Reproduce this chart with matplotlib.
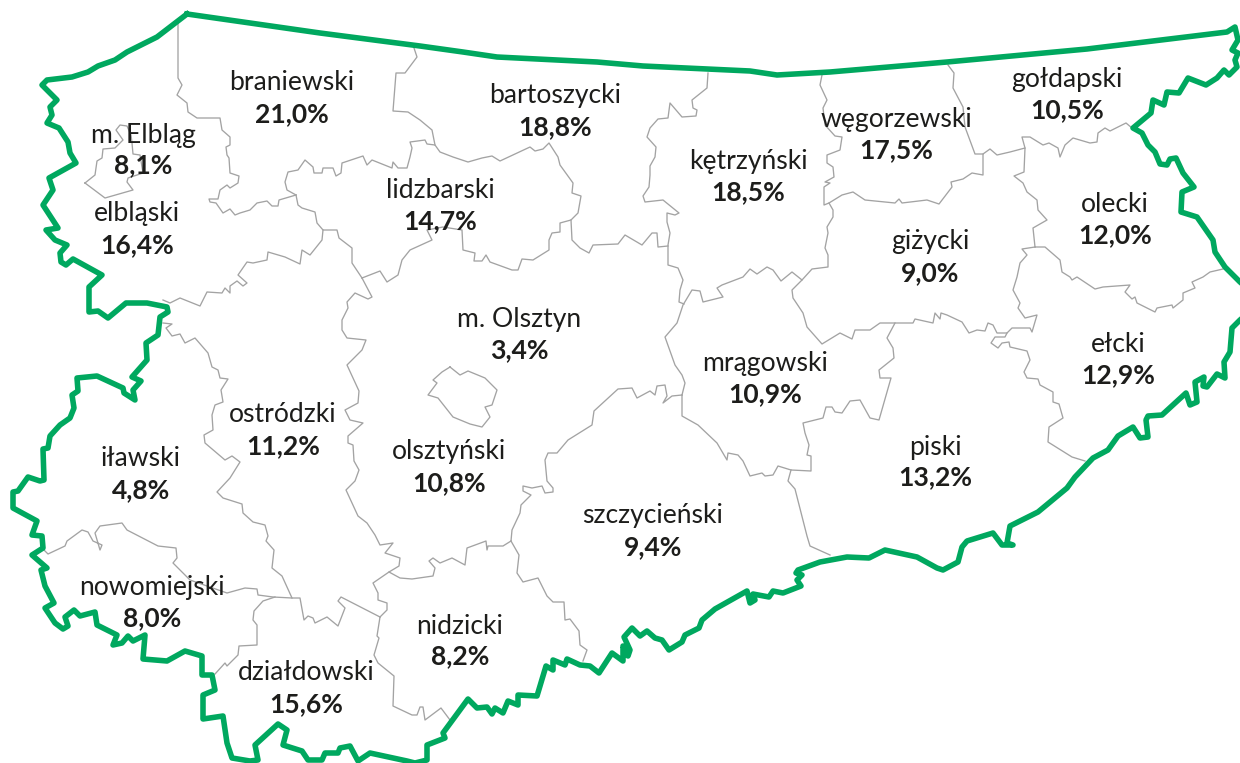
import matplotlib
matplotlib.use('Agg')
import matplotlib.pyplot as plt

# powiaty and their values
names = ['braniewski', 'bartoszycki', 'm. Elbląg', 'elbląski', 'lidzbarski', 'kętrzyński', 'węgorzewski',
         'gołdapski', 'olecki', 'giżycki', 'ełcki', 'm. Olsztyn', 'mrągowski', 'piski', 'ostródzki',
         'olsztyński', 'iławski', 'szczycieński', 'nowomiejski', 'nidzicki', 'działdowski']
values = ['21,0%', '18,8%', '8,1%', '16,4%', '14,7%', '18,5%', '17,5%',
          '10,5%', '12,0%', '9,0%', '12,9%', '3,4%', '10,9%', '13,2%', '11,2%',
          '10,8%', '4,8%', '9,4%', '8,0%', '8,2%', '15,6%']
label_x = [292, 555, 143, 137, 440, 748, 896, 1067, 1115, 930, 1118, 519, 765, 935, 283, 449, 141, 653, 152, 460, 306]
name_y = [83, 96, 136, 214, 190, 161, 119, 80, 204, 242, 344, 320, 363, 447, 415, 452, 459, 516, 588, 626, 673]
value_y = [114, 127, 165, 245, 221, 192, 150, 110, 235, 273, 375, 350, 394, 477, 446, 483, 490, 547, 618, 656, 704]

# voivodeship outline in pixels
outline = [(187, 14), (320, 33), (420, 46), (463, 52), (497, 57), (597, 62), (643, 66), (750, 71), (777, 75),
           (830, 72), (947, 62), (1087, 49), (1227, 32), (1235, 27), (1238, 40), (1232, 50), (1238, 53), (1235, 60),
           (1237, 67), (1229, 75), (1224, 70), (1217, 78), (1206, 85), (1188, 78), (1179, 93), (1167, 92), (1164, 105),
           (1153, 100), (1151, 113), (1133, 128), (1142, 133), (1148, 145), (1155, 152), (1160, 164), (1167, 165),
           (1170, 159), (1176, 158), (1183, 173), (1194, 187), (1182, 192), (1181, 212), (1197, 217), (1213, 240),
           (1215, 252), (1225, 267), (1240, 282), (1252, 292), (1252, 310), (1240, 320), (1232, 328), (1230, 352),
           (1224, 362), (1225, 378), (1217, 374), (1207, 387), (1203, 386), (1204, 377), (1195, 382), (1197, 402),
           (1190, 405), (1186, 393), (1162, 415), (1148, 416), (1146, 420), (1148, 437), (1140, 438), (1133, 427),
           (1118, 436), (1108, 450), (1093, 458), (1075, 477), (1067, 488), (1038, 512), (1010, 526), (1007, 543),
           (1013, 545), (1002, 545), (993, 533), (967, 541), (962, 547), (958, 562), (943, 570), (937, 568), (917, 557),
           (885, 550), (869, 558), (847, 557), (820, 562), (798, 570), (796, 573), (802, 575), (797, 580), (801, 586),
           (783, 593), (773, 591), (769, 597), (753, 594), (755, 600), (750, 603), (747, 591), (715, 609), (702, 620),
           (699, 628), (685, 635), (682, 642), (669, 650), (662, 640), (655, 638), (647, 631), (640, 636), (632, 628),
           (624, 637), (630, 650), (628, 656), (623, 646), (623, 661), (612, 653), (599, 673), (590, 666), (580, 665),
           (567, 659), (565, 665), (553, 660), (553, 670), (546, 666), (537, 696), (518, 695), (518, 705), (508, 701),
           (503, 713), (495, 708), (492, 714), (487, 707), (477, 708), (468, 699), (443, 733), (445, 738), (427, 745),
           (427, 760), (415, 763), (407, 761), (370, 753), (358, 761), (350, 746), (340, 748), (338, 753), (325, 753),
           (322, 760), (308, 760), (302, 751), (283, 745), (287, 730), (278, 724), (255, 745), (258, 760), (250, 761),
           (232, 758), (227, 743), (223, 716), (203, 719), (203, 695), (215, 690), (212, 675), (202, 675), (202, 656),
           (185, 651), (167, 661), (143, 659), (145, 635), (133, 641), (128, 636), (122, 643), (113, 645), (117, 635),
           (97, 625), (95, 612), (80, 616), (74, 610), (65, 617), (68, 626), (63, 629), (55, 623), (45, 608), (54, 603),
           (45, 586), (41, 570), (47, 568), (32, 555), (43, 548), (42, 536), (32, 535), (37, 521), (13, 508), (13, 492),
           (18, 491), (28, 477), (40, 481), (44, 480), (43, 449), (48, 448), (50, 436), (60, 425), (70, 418), (74, 408),
           (72, 395), (78, 391), (77, 378), (97, 376), (123, 388), (124, 393), (135, 400), (133, 390), (141, 381),
           (132, 377), (147, 360), (146, 343), (158, 335), (160, 317), (168, 312), (167, 307), (147, 303), (126, 303),
           (108, 318), (98, 311), (89, 312), (89, 287), (102, 275), (73, 259), (66, 265), (61, 262), (60, 253), (67, 245),
           (55, 240), (46, 230), (58, 228), (43, 205), (53, 190), (49, 178), (76, 163), (70, 153), (68, 142), (59, 128),
           (47, 123), (52, 115), (50, 107), (57, 100), (42, 85), (47, 80), (72, 77), (88, 72), (98, 66), (115, 60),
           (127, 52), (157, 37), (187, 14)]

# inner borders between powiaty
border_braniewo_w = [(178, 23), (178, 78), (182, 85), (177, 95), (187, 103), (188, 112), (197, 118), (220, 118),
                     (222, 130), (230, 137), (230, 145), (226, 147), (227, 155), (229, 158), (230, 173), (239, 176),
                     (238, 183), (230, 188), (227, 185), (220, 190), (218, 199), (209, 199), (210, 202), (216, 203),
                     (223, 213), (230, 209), (235, 215), (240, 213), (250, 210), (257, 203), (267, 201), (272, 206),
                     (278, 206), (279, 200), (296, 195)]
border_lidzbark_n = [(296, 195), (287, 190), (285, 182), (288, 172), (298, 170), (305, 160), (313, 167), (314, 173),
                     (322, 173), (323, 168), (333, 168), (336, 176), (341, 173), (342, 163), (363, 156), (367, 165),
                     (372, 160), (392, 168), (393, 162), (398, 168), (407, 168), (410, 157), (412, 148), (410, 142),
                     (425, 140), (427, 144), (435, 145), (440, 152), (453, 157), (468, 162), (482, 158), (492, 156),
                     (500, 161), (530, 147), (535, 151), (543, 149), (549, 143), (558, 157), (560, 165), (573, 183),
                     (572, 193), (581, 196), (578, 213), (571, 220), (560, 223), (560, 232), (552, 233), (549, 240),
                     (549, 250), (533, 260), (522, 259), (518, 270), (512, 270), (490, 262), (486, 255), (482, 261),
                     (474, 261), (475, 253), (463, 250), (462, 230), (443, 227), (427, 230), (432, 240), (410, 250),
                     (402, 260), (398, 275), (387, 282), (380, 271), (362, 278)]
border_olsztyn_w = [(362, 278), (372, 297), (368, 299), (355, 293), (347, 302), (348, 308), (342, 320), (342, 330),
                    (347, 338), (366, 340), (362, 350), (347, 365), (359, 391), (358, 403), (345, 410), (350, 420),
                    (363, 423), (348, 436), (348, 443), (353, 445), (354, 461), (359, 470), (355, 481), (346, 490),
                    (358, 516), (367, 523), (375, 535), (380, 545), (393, 543), (385, 553), (400, 558), (399, 566),
                    (389, 572), (373, 583), (378, 593), (378, 600), (387, 603), (387, 610), (380, 617)]
border_nidzica_n = [(389, 572), (400, 578), (412, 579), (433, 576), (435, 568), (429, 561), (433, 558), (440, 563),
                    (452, 558), (465, 565), (467, 548), (486, 541), (487, 550), (488, 546), (503, 546), (511, 541)]
border_szczytno_n = [(511, 541), (512, 530), (520, 513), (521, 505), (531, 495), (523, 491), (523, 486), (532, 488),
                     (542, 486), (545, 493), (553, 492), (553, 488), (547, 481), (545, 460), (548, 453), (557, 453),
                     (568, 440), (592, 425), (594, 411), (618, 389), (632, 388), (637, 398), (650, 391), (655, 395),
                     (657, 386), (665, 385), (667, 396), (663, 403), (672, 396), (682, 395)]
border_mragowo_n = [(682, 395), (685, 383), (682, 375), (675, 365), (665, 337), (677, 323), (683, 305), (692, 290),
                    (700, 291), (703, 302), (723, 297), (717, 288), (722, 285), (743, 277), (750, 269), (757, 274),
                    (767, 267), (773, 270), (781, 281), (792, 272), (802, 280), (812, 269), (820, 268), (828, 267),
                    (828, 255), (825, 248), (828, 233), (827, 227), (833, 217), (833, 210), (829, 203), (824, 205),
                    (824, 187), (830, 183), (825, 182), (834, 177), (833, 167), (827, 163), (827, 155), (840, 150),
                    (842, 137), (835, 136), (825, 125), (823, 108), (827, 100), (820, 85), (822, 75)]
border_ketrzyn_w = [(708, 73), (707, 88), (692, 100), (693, 108), (697, 110), (696, 116), (682, 117), (670, 103),
                    (668, 118), (658, 119), (650, 128), (647, 137), (656, 147), (655, 157), (650, 166), (650, 175),
                    (649, 187), (643, 196), (645, 202), (663, 200), (679, 213), (675, 215), (667, 213), (667, 222),
                    (670, 233), (668, 245), (668, 265), (678, 268), (683, 280), (680, 290), (679, 302), (684, 304)]
border_bartoszyce_s = [(571, 220), (572, 240), (580, 248), (589, 253), (593, 245), (618, 244), (625, 235), (642, 245),
                       (652, 233), (657, 233), (658, 247), (668, 246)]
border_braniewo_e = [(413, 45), (417, 57), (405, 73), (396, 73), (393, 111), (408, 112), (420, 120), (432, 130),
                     (435, 145)]
border_olsztyn_city = [(450, 367), (460, 375), (468, 371), (485, 378), (497, 390), (492, 405), (485, 407), (490, 417),
                       (482, 427), (470, 424), (453, 417), (438, 398), (428, 395), (437, 383), (433, 380), (442, 372),
                       (450, 367)]
border_elblag_city = [(85, 183), (95, 175), (97, 161), (102, 158), (103, 149), (115, 148), (123, 140), (116, 130),
                      (120, 125), (127, 126), (131, 135), (132, 143), (133, 154), (140, 155), (143, 173), (128, 178),
                      (127, 182), (133, 190), (105, 198), (85, 183)]
border_ostroda_n = [(296, 195), (298, 205), (302, 208), (315, 212), (317, 223), (323, 230), (337, 230), (339, 238),
                    (352, 248), (352, 263), (362, 278)]
border_elblag_s = [(323, 230), (322, 240), (310, 255), (302, 250), (300, 264), (285, 257), (268, 252), (267, 260),
                   (253, 263), (247, 262), (238, 275), (247, 283), (243, 286), (237, 281), (230, 286), (230, 293),
                   (225, 288), (222, 293), (207, 292), (200, 306), (180, 298), (170, 303), (163, 300)]
border_ostroda_w = [(163, 323), (172, 324), (166, 328), (172, 336), (180, 334), (185, 343), (195, 338), (208, 353),
                    (212, 367), (218, 370), (220, 378), (228, 379), (221, 390), (223, 402), (215, 405), (212, 415),
                    (213, 430), (204, 435), (205, 443), (225, 460), (232, 456), (240, 462), (230, 478), (217, 492),
                    (223, 498), (242, 504), (243, 513), (253, 522), (265, 525), (268, 536), (266, 541), (274, 550),
                    (272, 568), (282, 576), (292, 598)]
border_nowe_miasto_n = [(44, 550), (48, 554), (65, 546), (67, 541), (82, 530), (88, 532), (93, 541), (102, 545),
                        (100, 550), (95, 533), (100, 526), (122, 523), (127, 530), (158, 546), (176, 548), (177, 558),
                        (173, 563), (190, 580), (207, 586), (227, 593), (245, 588), (257, 589), (258, 595), (273, 597),
                        (292, 598), (300, 598), (304, 620), (308, 616), (313, 618), (315, 623), (327, 617), (338, 626),
                        (345, 608), (338, 601), (341, 597), (380, 617)]
border_dzialdowo_w = [(275, 597), (263, 601), (254, 611), (253, 620), (257, 625), (257, 645), (239, 646), (238, 655),
                      (227, 666), (225, 663), (215, 674)]
border_dzialdowo_e = [(380, 617), (377, 636), (379, 638), (374, 655), (378, 663), (394, 676), (393, 706), (412, 715),
                      (417, 715), (420, 707), (423, 707), (425, 720), (441, 708), (450, 720)]
border_nidzica_e = [(511, 541), (519, 555), (517, 573), (523, 582), (538, 578), (547, 596), (553, 602), (564, 602),
                    (565, 620), (570, 619), (579, 631), (580, 645), (587, 650), (583, 661)]
border_szczytno_e = [(682, 395), (682, 416), (698, 425), (717, 443), (727, 460), (728, 453), (738, 455), (743, 461),
                     (750, 476), (762, 473), (765, 476), (773, 475), (778, 466), (791, 470), (811, 471), (811, 456),
                     (807, 455), (809, 445), (805, 433), (803, 423), (823, 418), (826, 407), (832, 407), (835, 412),
                     (842, 413), (850, 401), (860, 400), (870, 418), (879, 420), (891, 378), (880, 378), (879, 370),
                     (894, 358), (893, 348), (887, 338), (895, 323)]
border_pisz_w = [(791, 470), (788, 481), (795, 489), (807, 536), (810, 546), (830, 555)]
border_gizycko_s = [(802, 280), (792, 290), (793, 298), (803, 313), (807, 327), (822, 344), (840, 333), (852, 339),
                    (855, 330), (870, 330), (880, 323), (895, 323), (913, 323), (915, 319), (933, 323), (935, 313),
                    (940, 319), (941, 313), (947, 315), (962, 322), (969, 333), (977, 330), (985, 331), (988, 323),
                    (993, 325), (997, 333), (1007, 333), (1012, 328), (1030, 328), (1032, 332), (1037, 315), (1025, 318),
                    (1018, 308), (1020, 303), (1013, 290), (1017, 277), (1020, 263), (1027, 255), (1022, 249), (1035, 247)]
border_olecko_w = [(1035, 247), (1033, 228), (1047, 220), (1038, 210), (1037, 200), (1027, 192), (1023, 183), (1014, 176),
                   (1024, 172), (1025, 148), (1010, 152), (997, 155), (990, 149), (983, 154), (983, 175), (972, 173),
                   (963, 179), (951, 182), (952, 187), (939, 204), (927, 200), (902, 203), (899, 199), (895, 203),
                   (865, 200), (853, 192), (842, 195), (829, 203)]
border_goldap_w = [(948, 65), (954, 73), (953, 88), (963, 107), (965, 127), (975, 154), (983, 154)]
border_goldap_s = [(1025, 148), (1022, 137), (1030, 137), (1043, 145), (1049, 143), (1058, 148), (1060, 157), (1065, 145),
                   (1073, 138), (1090, 143), (1097, 142), (1098, 133), (1105, 128), (1110, 131), (1126, 123), (1132, 128)]
border_olecko_s = [(1035, 247), (1045, 247), (1060, 260), (1062, 272), (1070, 277), (1072, 280), (1077, 277), (1095, 289),
                   (1103, 287), (1130, 285), (1125, 292), (1132, 299), (1135, 297), (1137, 303), (1155, 312), (1157, 308),
                   (1172, 305), (1173, 308), (1183, 300), (1183, 293), (1195, 288), (1192, 282), (1203, 277), (1210, 272),
                   (1223, 269)]
border_elk_w = [(1085, 461), (1072, 457), (1048, 442), (1049, 427), (1063, 418), (1059, 404), (1053, 402), (1053, 392),
                (1040, 385), (1038, 379), (1027, 378), (1024, 372), (1030, 360), (1027, 351), (1010, 347), (1009, 342),
                (1002, 343), (998, 348), (991, 343), (995, 337), (1005, 337), (1007, 333)]

borders = [border_braniewo_w, border_lidzbark_n, border_olsztyn_w, border_nidzica_n, border_szczytno_n,
           border_mragowo_n, border_ketrzyn_w, border_bartoszyce_s, border_braniewo_e, border_olsztyn_city,
           border_elblag_city, border_ostroda_n, border_elblag_s, border_ostroda_w, border_nowe_miasto_n,
           border_dzialdowo_w, border_dzialdowo_e, border_nidzica_e, border_szczytno_e, border_pisz_w,
           border_gizycko_s, border_olecko_w, border_goldap_w, border_goldap_s, border_olecko_s, border_elk_w]

plt.rcParams['font.family'] = ['Lato', 'DejaVu Sans']

fig = plt.figure(figsize=(12.4, 7.63), dpi=100)
ax = fig.add_axes([0, 0, 1, 1])
ax.set_xlim(0, 1240)
ax.set_ylim(763, 0)
ax.axis('off')

for b in borders:
    ax.plot([p[0] for p in b], [p[1] for p in b], color='#a3a3a3', lw=0.95, solid_joinstyle='round', zorder=1)

ax.plot([p[0] for p in outline], [p[1] for p in outline], color='#00a85f', lw=4, solid_joinstyle='round', zorder=2)

for i in range(len(names)):
    ax.text(label_x[i], name_y[i], names[i], ha='center', va='center', fontsize=19.1, color='#1d1d1b', zorder=3)
    ax.text(label_x[i], value_y[i], values[i], ha='center', va='center', fontsize=19.1, fontweight='bold',
            color='#1d1d1b', zorder=3)

fig.savefig('out.png', dpi=100)
